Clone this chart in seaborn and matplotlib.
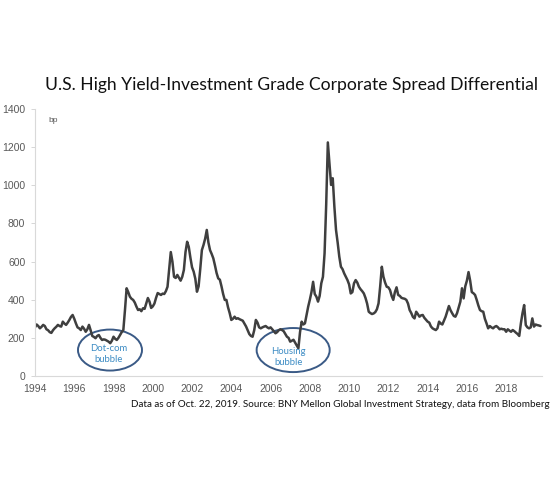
import numpy as np
import pandas as pd
import matplotlib
matplotlib.use("Agg")
import matplotlib.pyplot as plt
from matplotlib.patches import Ellipse
import seaborn as sns

# monthly HY - IG spread differential (bp), Jan..Dec
spread_1994 = [255, 270, 262, 250, 258, 268, 262, 245, 240, 230, 226, 240]
spread_1995 = [250, 258, 268, 262, 259, 285, 275, 268, 280, 294, 310, 320]
spread_1996 = [300, 276, 255, 250, 241, 259, 248, 232, 245, 268, 240, 210]
spread_1997 = [205, 198, 210, 215, 200, 189, 192, 190, 185, 180, 172, 185]
spread_1998 = [206, 195, 189, 200, 215, 230, 241, 346, 460, 440, 416, 405]
spread_1999 = [399, 385, 364, 346, 350, 340, 355, 352, 380, 409, 390, 357]
spread_2000 = [365, 380, 410, 435, 430, 425, 432, 430, 445, 468, 560, 650]
spread_2001 = [600, 520, 514, 530, 515, 500, 520, 556, 650, 704, 677, 620]
spread_2002 = [570, 547, 510, 442, 470, 560, 660, 687, 720, 766, 700, 660]
spread_2003 = [640, 617, 580, 540, 512, 505, 470, 430, 399, 399, 360, 330]
spread_2004 = [294, 300, 311, 300, 303, 298, 294, 290, 275, 260, 240, 220]
spread_2005 = [210, 206, 240, 294, 280, 255, 250, 255, 259, 262, 255, 250]
spread_2006 = [255, 245, 235, 224, 230, 240, 245, 241, 235, 220, 206, 200]
spread_2007 = [180, 185, 190, 175, 160, 145, 230, 285, 270, 276, 320, 364]
spread_2008 = [400, 440, 494, 430, 416, 390, 420, 486, 520, 643, 900, 1225]
spread_2009 = [1115, 1002, 1037, 888, 766, 700, 626, 573, 560, 538, 520, 503]
spread_2010 = [480, 433, 440, 486, 503, 490, 468, 455, 445, 433, 410, 380]
spread_2011 = [337, 330, 325, 328, 335, 350, 381, 470, 573, 520, 490, 468]
spread_2012 = [465, 451, 420, 399, 440, 465, 425, 420, 410, 407, 405, 399]
spread_2013 = [380, 346, 330, 310, 302, 337, 325, 311, 318, 320, 305, 295]
spread_2014 = [285, 280, 260, 250, 245, 241, 250, 285, 275, 270, 290, 311]
spread_2015 = [340, 367, 345, 329, 315, 311, 330, 360, 390, 460, 407, 470]
spread_2016 = [500, 545, 500, 440, 434, 425, 399, 370, 346, 340, 337, 300]
spread_2017 = [276, 250, 262, 255, 250, 258, 262, 255, 245, 248, 245, 245]
spread_2018 = [232, 245, 238, 232, 241, 235, 227, 220, 210, 276, 330, 372]
spread_2019 = [267, 255, 250, 255, 302, 259, 270, 267, 265, 262]  # to Oct

years = list(range(1994, 2020))
yearly = [spread_1994, spread_1995, spread_1996, spread_1997, spread_1998,
          spread_1999, spread_2000, spread_2001, spread_2002, spread_2003,
          spread_2004, spread_2005, spread_2006, spread_2007, spread_2008,
          spread_2009, spread_2010, spread_2011, spread_2012, spread_2013,
          spread_2014, spread_2015, spread_2016, spread_2017, spread_2018,
          spread_2019]

rows = []
for yr, vals in zip(years, yearly):
    for m, v in enumerate(vals):
        rows.append((yr + m / 12, v))
df = pd.DataFrame(rows, columns=["t", "spread"])

title = "U.S. High Yield-Investment Grade Corporate Spread Differential"
source = ("Data as of Oct. 22, 2019. Source: BNY Mellon Global Investment "
          "Strategy, data from Bloomberg")
x_ticks = list(range(1994, 2019, 2))
y_ticks = list(range(0, 1401, 200))

sns.set_theme(style="white")
plt.rcParams['font.family'] = ['Liberation Sans', 'DejaVu Sans']

fig = plt.figure(figsize=(5.6, 4.98), dpi=100)
ax = fig.add_axes([0.0625, 0.245, 0.9055, 0.536])

sns.lineplot(data=df, x="t", y="spread", ax=ax, color="#3f3f3f", linewidth=1.8)

ax.set_xlim(1994, 2019.83)
ax.set_ylim(0, 1400)
ax.set_xticks(x_ticks)
ax.set_xticklabels([str(x) for x in x_ticks])
ax.set_yticks(y_ticks)
ax.set_xlabel("")
ax.set_ylabel("")
ax.tick_params(axis="both", labelsize=7.5, colors="#595959")
ax.tick_params(axis="y", length=3, width=0.6, color="#d0d0d0", left=True, pad=4)
ax.tick_params(axis="x", length=0, pad=6)
for s in ["top", "right"]:
    ax.spines[s].set_visible(False)
for s in ["left", "bottom"]:
    ax.spines[s].set_color("#d9d9d9")
    ax.spines[s].set_linewidth(0.8)

ax.text(1994.7, 1360, "bp", fontsize=6, color="#595959", va="top")

# bubble annotations
edge = "#3a5a86"
ax.add_patch(Ellipse((1997.82, 136), 3.26, 215, fill=False, ec=edge, lw=1.4))
ax.text(1997.75, 115, "Dot-com\nbubble", fontsize=6.8, color="#3d8cc4",
        ha="center", va="center", family=["Lato", "DejaVu Sans"],
        linespacing=1.4)
ax.add_patch(Ellipse((2007.15, 136), 3.72, 231, fill=False, ec=edge, lw=1.4))
ax.text(2006.9, 100, "Housing\nbubble", fontsize=6.8, color="#3d8cc4",
        ha="center", va="center", family=["Lato", "DejaVu Sans"],
        linespacing=1.4)

fig.text(0.521, 0.829, title, fontsize=12.6, ha="center", va="center",
         color="#111111", family=["Lato", "DejaVu Sans"])
fig.text(0.982, 0.188, source, fontsize=7.1, ha="right", va="center",
         color="#111111", family=["Lato", "DejaVu Sans"])

fig.savefig("out.png", dpi=100)
